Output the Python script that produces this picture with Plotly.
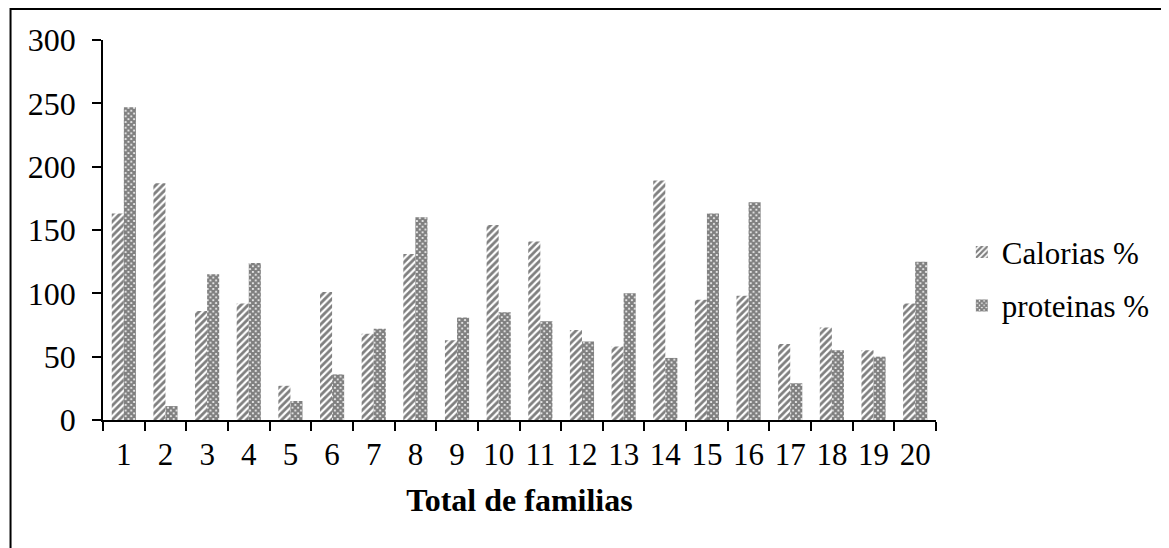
import plotly.graph_objects as go

categories = [str(i) for i in range(1, 21)]
calorias = [163, 187, 86, 92, 27, 101, 68, 131, 63, 154, 141, 71, 58, 189, 95, 98, 60, 73, 55, 92]
proteinas = [247, 11, 115, 124, 15, 36, 72, 160, 81, 85, 78, 62, 100, 49, 163, 172, 29, 55, 50, 125]
y_ticks = [0, 50, 100, 150, 200, 250, 300]

FONT = "Liberation Serif, Times New Roman, serif"
n = len(categories)

fig = go.Figure()
fig.add_trace(go.Bar(
    x=categories, y=calorias, name="Calorias %", legendgroup="a",
    marker=dict(color="white", line=dict(width=0),
                pattern=dict(shape="/", fgcolor="black", bgcolor="white", size=5, solidity=0.55)),
))
fig.add_trace(go.Bar(
    x=categories, y=proteinas, name="proteinas %", legendgroup="b",
    marker=dict(color="white", line=dict(width=0),
                pattern=dict(shape="x", fgcolor="black", bgcolor="white", size=4, solidity=0.8)),
))

fig.update_layout(
    width=1169, height=548,
    margin=dict(l=95, r=241, t=32, b=136),
    paper_bgcolor="white", plot_bgcolor="white",
    barmode="group", bargap=0.42, bargroupgap=0,
    font=dict(family=FONT, size=32, color="black"),
    showlegend=True,
    legend=dict(x=1.031, xanchor="left", y=0.512, yanchor="top",
                font=dict(family=FONT, size=31, color="black"),
                bgcolor="rgba(0,0,0,0)", tracegroupgap=10),
    xaxis=dict(
        type="category", categoryarray=categories, categoryorder="array",
        range=[-0.5, n - 0.5], tickangle=0,
        tickson="boundaries", ticks="outside", ticklen=9, tickwidth=2, tickcolor="black",
        showline=True, linecolor="black", linewidth=2, showgrid=False, zeroline=False,
        tickfont=dict(family=FONT, size=31, color="black"), ticklabelstandoff=6,
        title=dict(text="<b>Total de familias</b>", font=dict(family=FONT, size=32, color="black"), standoff=17),
    ),
    xaxis2=dict(
        overlaying="x", anchor="y", side="bottom", range=[-0.5, n - 0.5],
        tickmode="array", tickvals=[i - 0.5 for i in range(n + 1)],
        ticks="inside", ticklen=10, tickwidth=2, tickcolor="black",
        showticklabels=False, showline=False, showgrid=False, zeroline=False,
    ),
    yaxis=dict(
        range=[0, 300], tickmode="array", tickvals=y_ticks,
        ticks="outside", ticklen=9, tickwidth=1.5, tickcolor="black",
        showline=True, linecolor="black", linewidth=1.5, showgrid=False, zeroline=False,
        tickfont=dict(family=FONT, size=32, color="black"), ticklabelstandoff=10,
    ),
    yaxis2=dict(
        overlaying="y", anchor="x", side="left", range=[0, 300],
        tickmode="array", tickvals=y_ticks,
        ticks="inside", ticklen=9, tickwidth=1.5, tickcolor="black",
        showticklabels=False, showline=False, showgrid=False, zeroline=False,
    ),
    shapes=[dict(type="rect", xref="paper", yref="paper",
                 x0=-0.111, x1=1.6, y0=-1.0, y1=1.0816,
                 line=dict(color="black", width=2), fillcolor="rgba(0,0,0,0)", layer="below")],
)

fig.write_html("out.html")
